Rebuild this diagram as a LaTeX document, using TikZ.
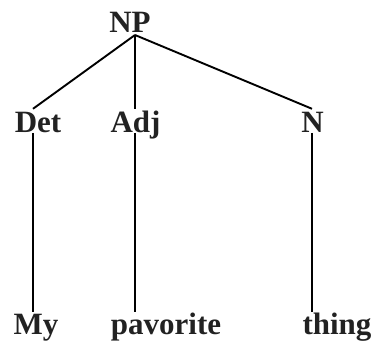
\documentclass[tikz,border=0pt]{standalone}
\usepackage{fontspec}
\setmainfont{Liberation Serif}
\usetikzlibrary{positioning}
\definecolor{inkgray}{HTML}{222222}
\tikzset{
  cat/.style    = {font=\bfseries\fontsize{31}{31}\selectfont, text=inkgray,
                   inner sep=0pt, text height=20.5pt, text depth=0pt, anchor=base},
  branch/.style = {line width=1.9pt, draw=black},
}

\begin{document}
\begin{tikzpicture}[x=1pt,y=-1pt]
  \useasboundingbox (0,0) rectangle (379,344);

  % ---- labels ------------------------------------------------------------
  \node[cat] (np)    at (130,33)    {NP};
  \node[cat] (det)   at (38,133)    {Det};
  \node[cat] (adj)   at (135.5,133) {Adj};
  \node[cat] (n)     at (312.5,133) {N};
  \node[cat] (my)    at (36,334)    {My};
  \node[cat] (pav)   at (166,334)   {pavorite};
  \node[cat] (thing) at (337,334)   {thing};

  % ---- branches ----------------------------------------------------------
  \draw[branch] ([xshift=5pt,yshift=-2pt]np.base) -- ([xshift=-5pt,yshift=3.5pt]det.north);
  \draw[branch] ([xshift=5pt,yshift=-2pt]np.base) -- ([xshift=-0.5pt,yshift=3.5pt]adj.north);
  \draw[branch] ([xshift=5pt,yshift=-2pt]np.base) -- ([xshift=-0.5pt,yshift=3.5pt]n.north);
  \draw[branch] ([xshift=-5pt]det.base) -- ([xshift=-3pt,yshift=1pt]my.north);
  \draw[branch] ([xshift=-0.5pt]adj.base) -- ([xshift=-31pt,yshift=1pt]pav.north);
  \draw[branch] ([xshift=-0.5pt]n.base) -- ([xshift=-25pt,yshift=1pt]thing.north);
\end{tikzpicture}
\end{document}
